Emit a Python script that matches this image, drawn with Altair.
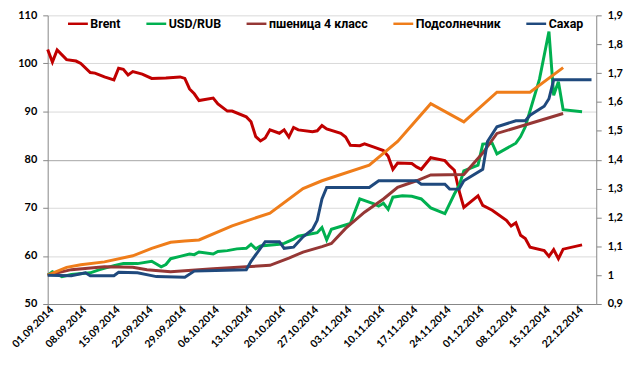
import altair as alt
import pandas as pd

# ---- data (dates DD.MM of 2014) ----
brent_dates = ["01.09","02.09","03.09","05.09","07.09","08.09","10.09","11.09","13.09","15.09",
               "16.09","17.09","18.09","19.09","21.09","23.09","26.09","29.09","30.09","01.10",
               "02.10","03.10","06.10","07.10","09.10","10.10","13.10","14.10","15.10","16.10",
               "17.10","18.10","20.10","21.10","22.10","23.10","24.10","27.10","28.10","29.10",
               "30.10","02.11","03.11","04.11","06.11","07.11","09.11","11.11","12.11","13.11",
               "14.11","17.11","18.11","19.11","21.11","24.11","25.11","26.11","27.11","28.11",
               "01.12","02.12","04.12","07.12","08.12","09.12","10.12","11.12","12.12","15.12",
               "16.12","17.12","18.12","19.12","23.12"]
brent_vals = [102.9,100.3,102.8,100.8,100.5,100.0,98.1,98.0,97.2,96.6,
              99.0,98.8,97.6,98.3,97.8,96.9,97.0,97.2,96.9,94.7,
              93.7,92.3,92.8,91.6,90.1,90.1,88.9,87.9,84.8,83.9,
              84.5,86.2,85.5,86.2,84.7,86.7,86.2,85.8,86.0,87.1,
              86.4,85.5,84.7,83.0,82.9,83.3,82.6,81.9,80.7,78.0,
              79.3,79.2,78.5,78.0,80.4,79.8,78.7,77.8,73.5,70.1,
              72.5,70.5,69.5,67.4,66.2,66.9,64.3,63.6,61.8,61.1,
              59.9,61.3,59.4,61.4,62.3]

usd_dates = ["01.09","02.09","04.09","06.09","10.09","12.09","15.09","17.09","20.09","23.09",
             "25.09","26.09","27.09","29.09","01.10","02.10","03.10","06.10","07.10","09.10",
             "11.10","13.10","14.10","15.10","16.10","20.10","21.10","23.10","24.10","26.10",
             "28.10","29.10","30.10","31.10","04.11","06.11","09.11","10.11","11.11","12.11",
             "13.11","15.11","17.11","19.11","21.11","24.11","26.11","27.11","28.11","01.12",
             "02.12","04.12","05.12","09.12","10.12","11.12","14.12","16.12","17.12","18.12",
             "19.12","23.12"]
usd_vals = [1.00,1.012,0.995,1.002,1.008,1.019,1.033,1.040,1.040,1.048,
            1.029,1.037,1.057,1.065,1.073,1.071,1.080,1.073,1.082,1.085,
            1.091,1.093,1.107,1.091,1.101,1.107,1.110,1.125,1.135,1.141,
            1.147,1.165,1.122,1.159,1.179,1.264,1.247,1.239,1.249,1.228,
            1.270,1.275,1.273,1.264,1.233,1.213,1.281,1.310,1.361,1.381,
            1.454,1.457,1.420,1.457,1.480,1.514,1.679,1.844,1.623,1.670,
            1.573,1.566]

wheat_dates = ["01.09","06.09","13.09","19.09","22.09","27.09","06.10","13.10","18.10","22.10",
               "25.10","29.10","31.10","03.11","07.11","11.11","14.11","18.11","21.11","28.11",
               "02.12","05.12","19.12"]
wheat_vals = [1.00,1.019,1.029,1.027,1.019,1.012,1.022,1.029,1.034,1.059,
              1.080,1.099,1.110,1.162,1.218,1.264,1.304,1.327,1.347,1.349,
              1.423,1.491,1.560]

sun_dates = ["01.09","05.09","08.09","13.09","19.09","23.09","27.09","30.09","03.10","10.10",
             "18.10","25.10","29.10","08.11","14.11","21.11","28.11","05.12","12.12","19.12"]
sun_vals = [1.00,1.027,1.036,1.046,1.067,1.093,1.114,1.118,1.122,1.171,
            1.215,1.300,1.327,1.381,1.463,1.594,1.531,1.634,1.634,1.719]

sugar_dates = ["01.09","06.09","09.09","10.09","15.09","16.09","20.09","24.09","30.09","02.10",
               "13.10","14.10","17.10","20.10","21.10","23.10","25.10","27.10","28.10","29.10",
               "30.10","08.11","10.11","18.11","19.11","24.11","25.11","27.11","28.11","02.12",
               "03.12","05.12","09.12","11.12","12.12","15.12","16.12","17.12","25.12"]
sugar_vals = [1.00,0.998,1.008,0.998,0.998,1.010,1.008,0.995,0.993,1.014,
              1.019,1.048,1.116,1.116,1.093,1.097,1.133,1.158,1.190,1.264,
              1.304,1.304,1.327,1.327,1.315,1.315,1.298,1.298,1.327,1.367,
              1.463,1.514,1.535,1.535,1.554,1.585,1.611,1.677,1.677]

series_names = ["Brent", "USD/RUB", "пшеница 4 класс", "Подсолнечник", "Сахар"]
series_colors = ["#c00000", "#00b050", "#953735", "#ef7d1a", "#1f497d"]

tick_dates = ["01.09","08.09","15.09","22.09","29.09","06.10","13.10","20.10","27.10",
              "03.11","10.11","17.11","24.11","01.12","08.12","15.12","22.12"]
left_ticks = [50, 60, 70, 80, 90, 100, 110]
right_ticks = [0.9, 1.0, 1.1, 1.2, 1.3, 1.4, 1.5, 1.6, 1.7, 1.8, 1.9]


def to_dt(s):
    d, m = s.split(".")
    return alt.DateTime(year=2014, month=int(m), date=int(d))


def frame(dates, vals, name):
    return pd.DataFrame({
        "date": pd.to_datetime([d + ".2014" for d in dates], format="%d.%m.%Y"),
        "value": vals,
        "series": name,
    })


FONT = "Lato"
LEGEND_FONT = "Roboto"
GREY = "#868686"

color = alt.Color(
    "series:N",
    scale=alt.Scale(domain=series_names, range=series_colors),
    legend=alt.Legend(
        orient="none", legendX=19, legendY=-3, direction="horizontal", title=None,
        symbolType="stroke", symbolStrokeWidth=2.5, symbolSize=400,
        labelFont=LEGEND_FONT, labelFontSize=12.5, labelFontWeight="bold", labelColor="#000000",
        columnPadding=20, labelOffset=1, padding=0,
    ),
)

x = alt.X(
    "date:T", title=None,
    scale=alt.Scale(domain=[to_dt("01.09"), to_dt("26.12")]),
    axis=alt.Axis(
        values=[to_dt(t) for t in tick_dates], format="%d.%m.%Y", labelAngle=-45,
        labelAlign="right", labelBaseline="middle", labelPadding=0, labelOffset=4,
        labelFont=FONT, labelFontSize=10.5, labelFontWeight="bold", labelColor="#000000",
        domainColor=GREY, tickColor=GREY, tickSize=4, grid=False, labelOverlap=False,
        labelFlush=False,
    ),
)

y_left = alt.Y(
    "value:Q", title=None,
    scale=alt.Scale(domain=[50, 110], nice=False, zero=False),
    axis=alt.Axis(
        values=left_ticks, orient="left", grid=True,
        gridColor=alt.condition("datum.value === 80", alt.value("#a6a6a6"), alt.value("#d9d9d9")),
        domainColor=GREY, tickColor=GREY, tickSize=5, labelPadding=6,
        labelFont=FONT, labelFontSize=11, labelFontWeight="bold", labelColor="#000000",
    ),
)

y_right = alt.Y(
    "value:Q", title=None,
    scale=alt.Scale(domain=[0.9, 1.9], nice=False, zero=False),
    axis=alt.Axis(
        values=right_ticks, orient="right", grid=False,
        labelExpr="replace(format(datum.value, '.1~f'), '.', ',')",
        domainColor=GREY, tickColor=GREY, tickSize=5, labelPadding=6,
        labelFont=FONT, labelFontSize=11, labelFontWeight="bold", labelColor="#000000",
    ),
)

brent = alt.Chart(frame(brent_dates, brent_vals, "Brent")).mark_line(strokeWidth=3).encode(
    x=x, y=y_left, color=color)

right_layers = []
for dates, vals, name in [(usd_dates, usd_vals, "USD/RUB"),
                          (wheat_dates, wheat_vals, "пшеница 4 класс"),
                          (sun_dates, sun_vals, "Подсолнечник"),
                          (sugar_dates, sugar_vals, "Сахар")]:
    right_layers.append(
        alt.Chart(frame(dates, vals, name)).mark_line(strokeWidth=3).encode(
            x=x, y=y_right, color=color)
    )

chart = alt.layer(brent, alt.layer(*right_layers)).resolve_scale(y="independent").properties(
    width=553, height=291,
    padding={"left": 40, "top": 6, "right": 30, "bottom": 52},
    autosize=alt.AutoSizeParams(type="none"),
    background="white",
).configure_view(stroke=None)

chart.save("out.html", embed_options={"renderer": "svg", "actions": False})
